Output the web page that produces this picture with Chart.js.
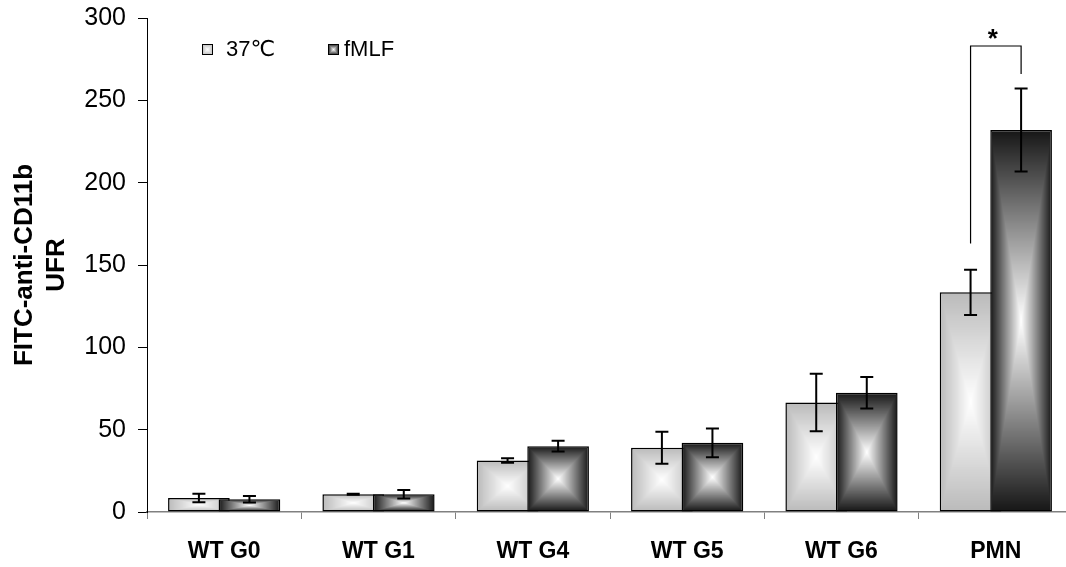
<!DOCTYPE html>
<html>
<head>
<meta charset="utf-8">
<script src="https://cdn.jsdelivr.net/npm/chart.js@4.4.1/dist/chart.umd.min.js"></script>
<style>
  html, body { margin: 0; padding: 0; background: #fff; overflow: hidden; }
  #wrap { width: 1080px; height: 567px; }
</style>
</head>
<body>
<div id="wrap"><canvas id="chart" width="1080" height="567"></canvas></div>
<script>
const categories = ["WT G0", "WT G1", "WT G4", "WT G5", "WT G6", "PMN"];
const seriesNames = ["37℃", "fMLF"];
const restValues = [8.5, 10.8, 31.3, 39, 66.5, 133.4];
const restErrors = [2.6, 0.3, 1.4, 9.7, 17.4, 13.7];
const fmlfValues = [7.7, 10.8, 40, 42, 72.4, 232];
const fmlfErrors = [2, 2.6, 3.2, 8.7, 9.6, 25.2];
const yTicks = [0, 50, 100, 150, 200, 250, 300];
const yTitle = ["FITC-anti-CD11b", "UFR"];

// significance bracket over PMN (y values)
const sigIndex = 5;
const sigLeftFrom = 163;
const sigRightFrom = 266;
const sigTop = 283;
const sigLabel = "*";

const FONT = '"Liberation Sans", Arial, "DejaVu Sans", sans-serif';
const errorSets = [restErrors, fmlfErrors];

// "from center" gradient: edge colour fading to white in the middle
function makeGradientSource(edge) {
  const S = 128;
  const c = document.createElement("canvas");
  c.width = S;
  c.height = S;
  const g = c.getContext("2d");
  const img = g.createImageData(S, S);
  const h = S / 2;
  for (let y = 0; y < S; y++) {
    for (let x = 0; x < S; x++) {
      const t = Math.max(Math.abs(x + 0.5 - h), Math.abs(y + 0.5 - h)) / h;
      const v = Math.round(255 - (255 - edge) * t);
      const p = (y * S + x) * 4;
      img.data[p] = v;
      img.data[p + 1] = v;
      img.data[p + 2] = v;
      img.data[p + 3] = 255;
    }
  }
  g.putImageData(img, 0, 0);
  return c;
}

const lightSrc = makeGradientSource(186);
const darkSrc = makeGradientSource(22);
const sources = [lightSrc, darkSrc];

const canvas = document.getElementById("chart");
const ctx = canvas.getContext("2d");
const restPatterns = categories.map(() => ctx.createPattern(lightSrc, "no-repeat"));
const fmlfPatterns = categories.map(() => ctx.createPattern(darkSrc, "no-repeat"));

let drawingTop = false;

const barsPlugin = {
  id: "barsExtras",
  beforeDatasetsDraw(chart) {
    // stretch each bar's gradient onto the bar the library laid out
    chart.data.datasets.forEach((ds, di) => {
      const meta = chart.getDatasetMeta(di);
      meta.data.forEach((el, i) => {
        const pat = ds.backgroundColor[i];
        const left = el.x - el.width / 2;
        const top = Math.min(el.y, el.base);
        const h = Math.max(Math.abs(el.base - el.y), 1);
        pat.setTransform(new DOMMatrix().translate(left, top).scale(el.width / 128, h / 128));
      });
    });
  },
  beforeDatasetDraw(chart, args) {
    // second series overlaps the first, so draw it afterwards
    if (args.index === 1 && !drawingTop) return false;
  },
  afterDatasetDraw(chart, args) {
    if (args.index === 0) {
      drawingTop = true;
      chart.getDatasetMeta(1).controller.draw();
      drawingTop = false;
    }
  },
  afterDatasetsDraw(chart) {
    const c = chart.ctx;
    const y = chart.scales.y;
    c.save();
    c.strokeStyle = "#000";
    c.lineWidth = 2;
    chart.data.datasets.forEach((ds, di) => {
      const meta = chart.getDatasetMeta(di);
      meta.data.forEach((el, i) => {
        const v = ds.data[i];
        const e = errorSets[di][i];
        const yHi = y.getPixelForValue(v + e);
        const yLo = y.getPixelForValue(v - e);
        c.beginPath();
        c.moveTo(el.x, yHi);
        c.lineTo(el.x, yLo);
        c.moveTo(el.x - 6.5, yHi);
        c.lineTo(el.x + 6.5, yHi);
        c.moveTo(el.x - 6.5, yLo);
        c.lineTo(el.x + 6.5, yLo);
        c.stroke();
      });
    });
    c.restore();
  },
  afterDraw(chart) {
    const c = chart.ctx;
    const y = chart.scales.y;
    const a = chart.chartArea;

    // significance bracket
    const xL = chart.getDatasetMeta(0).data[sigIndex].x;
    const xR = chart.getDatasetMeta(1).data[sigIndex].x;
    const yT = y.getPixelForValue(sigTop);
    c.save();
    c.strokeStyle = "#000";
    c.lineWidth = 1.2;
    c.beginPath();
    c.moveTo(xL, y.getPixelForValue(sigLeftFrom));
    c.lineTo(xL, yT);
    c.lineTo(xR, yT);
    c.lineTo(xR, y.getPixelForValue(sigRightFrom));
    c.stroke();
    c.fillStyle = "#000";
    c.font = "bold 26px " + FONT;
    c.textAlign = "center";
    c.textBaseline = "alphabetic";
    c.fillText(sigLabel, (xL + xR) / 2 - 3, yT + 1);

    // legend inside the plot
    const items = [
      { box: a.left + 55, text: a.left + 79 },
      { box: a.left + 181, text: a.left + 197 },
    ];
    c.font = "22px " + FONT;
    c.textAlign = "left";
    c.textBaseline = "middle";
    items.forEach((it, i) => {
      const by = a.top + 26;
      c.drawImage(sources[i], it.box, by, 11, 11);
      c.lineWidth = 1;
      c.strokeRect(it.box + 0.5, by + 0.5, 10, 10);
      c.fillText(seriesNames[i], it.text, by + 6);
    });
    c.restore();
  },
};

new Chart(ctx, {
  type: "bar",
  data: {
    labels: categories,
    datasets: [
      {
        label: seriesNames[0],
        data: restValues,
        backgroundColor: restPatterns,
        borderColor: "#000",
        borderWidth: 1.5,
        borderSkipped: false,
        categoryPercentage: 0.655,
        barPercentage: 1.22,
      },
      {
        label: seriesNames[1],
        data: fmlfValues,
        backgroundColor: fmlfPatterns,
        borderColor: "#000",
        borderWidth: 1.5,
        borderSkipped: false,
        categoryPercentage: 0.655,
        barPercentage: 1.22,
      },
    ],
  },
  options: {
    responsive: false,
    animation: false,
    devicePixelRatio: 1,
    layout: { padding: { top: 18, right: 7, bottom: 0, left: 0 } },
    plugins: {
      legend: { display: false },
      tooltip: { enabled: false },
    },
    scales: {
      x: {
        grid: { drawOnChartArea: false, offset: true, tickLength: 7, color: "#808080" },
        border: { color: "#808080", width: 1.5 },
        ticks: {
          color: "#000",
          font: { family: FONT, size: 23, weight: "bold" },
          padding: 19,
          maxRotation: 0,
          autoSkip: false,
        },
        afterFit(scale) {
          scale.height = 55;
        },
      },
      y: {
        min: yTicks[0],
        max: yTicks[yTicks.length - 1],
        ticks: {
          stepSize: yTicks[1] - yTicks[0],
          color: "#000",
          font: { family: FONT, size: 25 },
          padding: 12,
        },
        grid: { drawOnChartArea: false, tickLength: 9, color: "#000" },
        border: { color: "#000", width: 1 },
        title: {
          display: true,
          text: yTitle,
          color: "#000",
          font: { family: FONT, size: 26, weight: "bold", lineHeight: 1.23 },
          padding: { top: 9, bottom: 0 },
        },
        afterFit(scale) {
          scale.width = 147;
          scale.paddingTop = 0;
          scale.paddingBottom = 0;
        },
      },
    },
  },
  plugins: [barsPlugin],
});
</script>
</body>
</html>
